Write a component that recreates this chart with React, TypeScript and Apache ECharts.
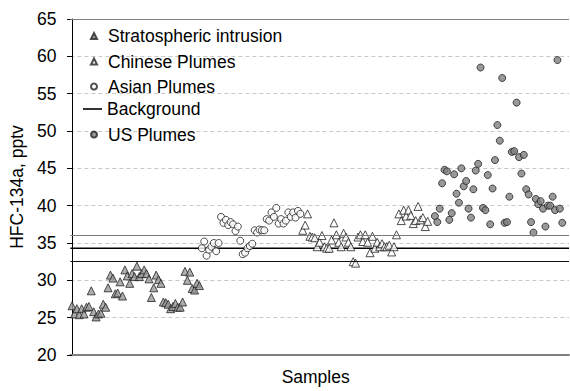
import React, { useEffect, useRef } from "react";
import * as echarts from "echarts";

const FONT = "'Liberation Sans', Arial, Helvetica, sans-serif";
const FS = 17.5;

const stratospheric = [
  26.6, 25.5, 26.2, 25.4, 26.2, 25.5, 26.4, 26.5, 28.6, 25.8,
  25.1, 25.5, 25.6, 26.8, 26.4, 29.0, 30.7, 30.3, 28.2, 28.3,
  29.8, 27.9, 31.4, 30.6, 29.6, 30.9, 30.5, 31.9, 30.5, 30.9,
  31.4, 30.9, 30.2, 27.7, 29.0, 30.7, 30.1, 29.6, 27.1, 27.0,
  26.8, 26.2, 26.5, 26.9, 26.4, 26.4, 27.1, 31.2, 30.0, 31.1,
  28.9, 28.7, 29.6, 29.3,
];

const asian = [
  34.3, 35.2, 33.3, 34.1, 34.5, 35.0, 33.9, 35.0, 38.5, 37.7,
  38.1, 37.4, 37.8, 37.5, 36.6, 37.2, 35.3, 33.5, 33.7, 34.3,
  34.6, 34.9, 36.7, 36.4, 36.8, 36.7, 36.7, 38.2, 38.0, 39.1,
  38.5, 39.7, 37.6, 38.2, 37.6, 38.0, 39.1, 38.5, 39.1, 38.4,
  39.3, 38.9,
];

const chinese = [
  36.7, 37.4, 38.9, 35.9, 35.8, 35.7, 34.5, 35.1, 36.0, 34.5,
  34.3, 34.3, 35.4, 37.7, 36.1, 35.1, 34.5, 36.3, 35.8, 35.1,
  34.5, 32.5, 32.3, 35.8, 36.1, 35.2, 36.1, 35.1, 33.7, 35.9,
  34.3, 35.1, 34.5, 34.9, 34.5, 34.5, 34.7, 33.8, 34.5, 36.1,
  38.9, 38.0, 39.4, 38.6, 39.4, 38.7, 37.6, 38.0, 39.9, 38.1,
  38.4, 37.2, 37.9,
];

const us = [
  38.6, 37.8, 39.6, 43.0, 44.8, 44.6, 38.1, 39.0, 44.2, 41.6,
  40.4, 45.0, 42.6, 43.3, 39.6, 38.4, 42.2, 44.7, 45.6, 58.5,
  39.7, 39.4, 44.1, 37.5, 42.3, 46.1, 50.8, 48.7, 57.1, 37.7,
  37.8, 41.2, 47.2, 47.3, 53.8, 46.5, 44.3, 46.8, 42.2, 41.5,
  37.8, 36.4, 40.9, 40.2, 40.6, 39.6, 37.2, 40.0, 40.0, 41.2,
  39.4, 59.5, 39.6, 37.7,
];

// background levels: mean and +/- band
const backgroundMean = 34.3;
const backgroundUpper = 36.1;
const backgroundLower = 32.5;

const yTicks = { min: 20, max: 65, interval: 5 };
const sampleGapBeforeUS = 2;

export default function App() {
  const ref = useRef<HTMLDivElement>(null);

  useEffect(() => {
    if (!ref.current) return;
    const chart = echarts.init(ref.current, undefined, { renderer: "svg" });

    const sStart = 0;
    const aStart = sStart + stratospheric.length;
    const cStart = aStart + asian.length;
    const uStart = cStart + chinese.length + sampleGapBeforeUS;
    const xMin = -0.7;
    const xMax = uStart + us.length + 1.8;

    const toData = (arr: number[], start: number) => arr.map((v, i) => [start + i, v]);

    const legendText = { fontSize: FS, fontFamily: FONT, color: "#000", padding: [0, 0, 0, 6] };
    const legendBase = {
      orient: "vertical" as const,
      itemGap: 0,
      padding: 0,
      selectedMode: false,
      textStyle: legendText,
    };

    chart.setOption({
      animation: false,
      textStyle: { fontFamily: FONT },
      grid: { left: 66.7, right: 1, top: 19, bottom: 31.4 },
      legend: [
        { ...legendBase, data: ["Stratospheric intrusion"], left: 90, top: 27, itemWidth: 6, itemHeight: 6 },
        { ...legendBase, data: ["Chinese Plumes"], left: 90, top: 52.5, itemWidth: 6, itemHeight: 6 },
        { ...legendBase, data: ["Asian Plumes"], left: 90, top: 77.5, itemWidth: 6, itemHeight: 6 },
        {
          ...legendBase,
          data: [{ name: "Background", icon: "rect" }],
          left: 83,
          top: 100,
          itemWidth: 19,
          itemHeight: 1.6,
          textStyle: { ...legendText, padding: 0 },
        },
        { ...legendBase, data: ["US Plumes"], left: 90, top: 125.5, itemWidth: 6, itemHeight: 6 },
      ],
      xAxis: {
        type: "value",
        min: xMin,
        max: xMax,
        name: "Samples",
        nameLocation: "middle",
        nameGap: 13,
        nameTextStyle: { fontSize: FS, color: "#000", fontFamily: FONT, padding: [0, 8, 0, 0] },
        axisLine: { show: true, lineStyle: { color: "#808080", width: 2 } },
        axisTick: { show: false },
        axisLabel: { show: false },
        splitLine: { show: false },
      },
      yAxis: {
        type: "value",
        min: yTicks.min,
        max: yTicks.max,
        interval: yTicks.interval,
        name: "HFC-134a, pptv",
        nameLocation: "middle",
        nameGap: 43,
        nameRotate: 90,
        nameTextStyle: { fontSize: FS, color: "#000", fontFamily: FONT },
        axisLine: { show: true, lineStyle: { color: "#000", width: 1 } },
        axisTick: { show: true, inside: false, length: 5, lineStyle: { color: "#000" } },
        axisLabel: { fontSize: FS, color: "#000", fontFamily: FONT, margin: 14 },
        splitLine: { show: true, lineStyle: { color: "#c8c8c8", type: [4, 3], width: 1 } },
      },
      series: [
        {
          name: "Background",
          type: "line",
          data: [[xMin, backgroundMean], [xMax, backgroundMean]],
          showSymbol: false,
          symbol: "none",
          lineStyle: { color: "#000", width: 1.5 },
          itemStyle: { color: "#000" },
          silent: true,
          z: 1,
          markLine: {
            silent: true,
            symbol: ["none", "none"],
            label: { show: false },
            animation: false,
            data: [
              { yAxis: backgroundUpper, lineStyle: { color: "#7a7a7a", width: 1.2, type: "solid" } },
              { yAxis: backgroundLower, lineStyle: { color: "#111", width: 1.2, type: "solid" } },
              { yAxis: yTicks.max, lineStyle: { color: "#808080", width: 1, type: "solid" } },
            ],
          },
        },
        {
          name: "Stratospheric intrusion",
          type: "scatter",
          symbol: "triangle",
          symbolSize: 8,
          data: toData(stratospheric, sStart),
          itemStyle: { color: "#9a9a9a", borderColor: "#222", borderWidth: 1 },
          z: 3,
        },
        {
          name: "Asian Plumes",
          type: "scatter",
          symbol: "circle",
          symbolSize: 7,
          data: toData(asian, aStart),
          itemStyle: { color: "#fff", borderColor: "#222", borderWidth: 1 },
          z: 3,
        },
        {
          name: "Chinese Plumes",
          type: "scatter",
          symbol: "triangle",
          symbolSize: 8,
          data: toData(chinese, cStart),
          itemStyle: { color: "#fff", borderColor: "#222", borderWidth: 1 },
          z: 3,
        },
        {
          name: "US Plumes",
          type: "scatter",
          symbol: "circle",
          symbolSize: 7,
          data: toData(us, uStart),
          itemStyle: { color: "#7f7f7f", borderColor: "#222", borderWidth: 1 },
          z: 3,
        },
      ],
    });

    return () => chart.dispose();
  }, []);

  return (
    <div
      ref={ref}
      style={{ position: "fixed", left: 0, top: 0, width: 570, height: 391, background: "#fff" }}
    />
  );
}
